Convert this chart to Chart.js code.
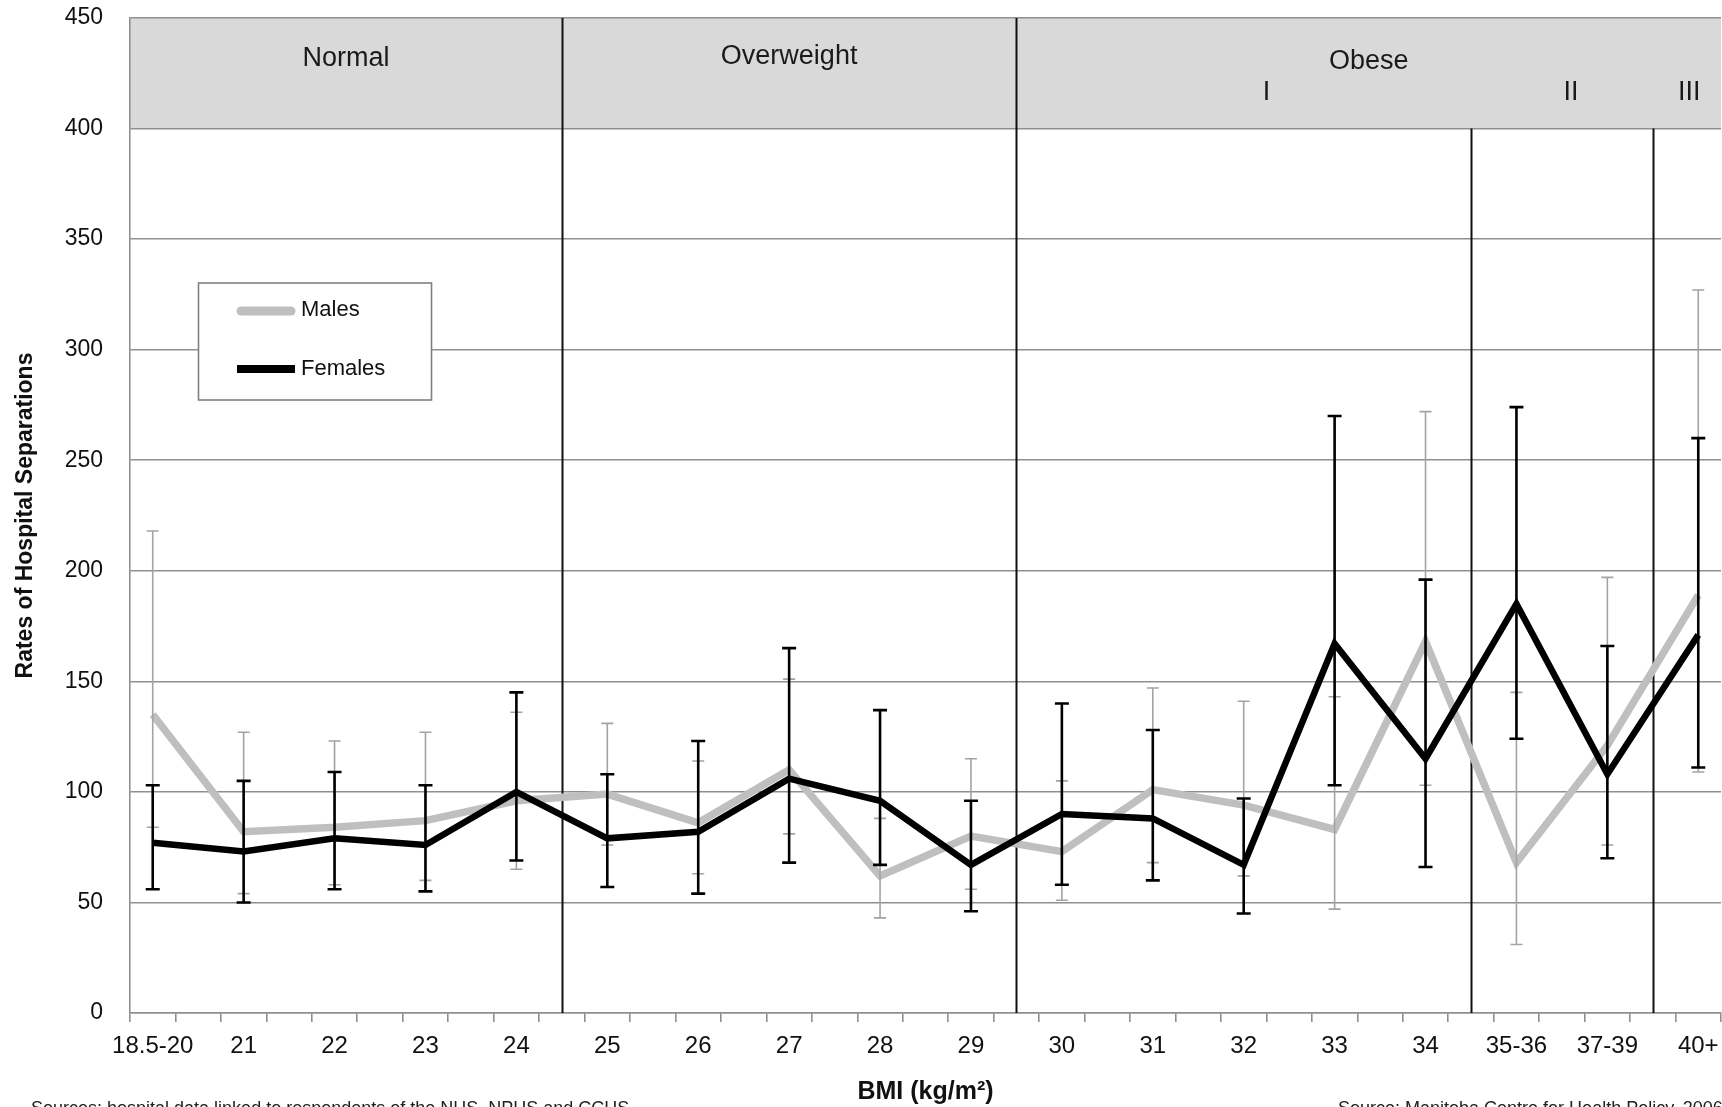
<!DOCTYPE html>
<html>
<head>
<meta charset="utf-8">
<script src="https://cdn.jsdelivr.net/npm/chart.js@4.4.1/dist/chart.umd.min.js"></script>
<style>
  html, body { margin: 0; padding: 0; background: #fff; overflow: hidden; }
  canvas { display: block; }
</style>
</head>
<body>
<canvas id="chart" width="1722" height="1107"></canvas>
<script>
// BMI groups on the x axis
const bmiGroups = ['18.5-20', '21', '22', '23', '24', '25', '26', '27', '28', '29',
                   '30', '31', '32', '33', '34', '35-36', '37-39', '40+'];

// Rates of hospital separations with lower / upper confidence limits
const males       = [135,  82,  84,  87,  96,  99,  86, 110,  62,  80,  73, 101,  94,  83, 168,  68, 121, 189];
const malesLow    = [ 84,  54,  58,  60,  65,  76,  63,  81,  43,  56,  51,  68,  62,  47, 103,  31,  76, 109];
const malesHigh   = [218, 127, 123, 127, 136, 131, 114, 151,  88, 115, 105, 147, 141, 143, 272, 145, 197, 327];
const females     = [ 77,  73,  79,  76, 100,  79,  82, 106,  96,  67,  90,  88,  67, 167, 115, 185, 108, 171];
const femalesLow  = [ 56,  50,  56,  55,  69,  57,  54,  68,  67,  46,  58,  60,  45, 103,  66, 124,  70, 111];
const femalesHigh = [103, 105, 109, 103, 145, 108, 123, 165, 137,  96, 140, 128,  97, 270, 196, 274, 166, 260];

// y axis tick values
const yTicks = [0, 50, 100, 150, 200, 250, 300, 350, 400, 450];

// BMI class header band and its labels
const bandRange = [400, 450];
const classLabels = [
  { text: 'Normal',     slot: 4.25,  value: 431.5 },
  { text: 'Overweight', slot: 14,    value: 432.5 },
  { text: 'Obese',      slot: 26.75, value: 430.5 },
  { text: 'I',          slot: 24.5,  value: 416.5 },
  { text: 'II',         slot: 31.2,  value: 416.5 },
  { text: 'III',        slot: 33.8,  value: 416.5 }
];
// class dividers: slot position on the x axis and the value they rise to
const dividerSlots = [9, 19, 29, 33];
const dividerTops  = [450, 450, 400, 400];

// each BMI group gets a labelled slot followed by an empty spacer slot
const slotLabels = [];
bmiGroups.forEach((g, i) => { slotLabels.push(g); if (i < bmiGroups.length - 1) slotLabels.push(''); });
const toSlots = arr => {
  const out = [];
  arr.forEach((v, i) => { out.push(v); if (i < arr.length - 1) out.push(null); });
  return out;
};

const errorSets = {
  Males:   { low: toSlots(malesLow),   high: toSlots(malesHigh),   color: '#a3a3a3', width: 1.6, cap: 6 },
  Females: { low: toSlots(femalesLow), high: toSlots(femalesHigh), color: '#000000', width: 2.6, cap: 7 }
};

Chart.defaults.font.family = '"Liberation Sans", Arial, Helvetica, sans-serif';
Chart.defaults.color = '#111';

const gridGray = '#8f8f8f';

// header band behind the grid
const classBand = {
  id: 'classBand',
  beforeDraw(chart) {
    const { ctx, chartArea, scales: { y } } = chart;
    const top = y.getPixelForValue(bandRange[1]);
    const bottom = y.getPixelForValue(bandRange[0]);
    ctx.save();
    ctx.fillStyle = '#d9d9d9';
    ctx.fillRect(chartArea.left, top, chartArea.right - chartArea.left, bottom - top);
    ctx.restore();
  },
  beforeDatasetsDraw(chart) {
    const { ctx, chartArea, scales: { x, y } } = chart;
    ctx.save();
    // dividers between the BMI classes
    ctx.strokeStyle = '#111';
    ctx.lineWidth = 2;
    dividerSlots.forEach((s, i) => {
      const px = Math.round(x.getPixelForValue(s)) + 0.5;
      ctx.beginPath();
      ctx.moveTo(px, y.getPixelForValue(dividerTops[i]));
      ctx.lineTo(px, chartArea.bottom);
      ctx.stroke();
    });
    // class names
    ctx.fillStyle = '#1a1a1a';
    ctx.font = '27px "Liberation Sans", Arial, sans-serif';
    ctx.textAlign = 'center';
    ctx.textBaseline = 'middle';
    classLabels.forEach(l => {
      ctx.fillText(l.text, x.getPixelForValue(l.slot), y.getPixelForValue(l.value));
    });
    ctx.restore();
  }
};

// confidence interval bars, drawn right after their own series
const errorBars = {
  id: 'errorBars',
  afterDatasetDraw(chart, args) {
    const ds = chart.data.datasets[args.index];
    const set = errorSets[ds.label];
    if (!set) return;
    const { ctx, scales: { x, y } } = chart;
    ctx.save();
    ctx.strokeStyle = set.color;
    ctx.lineWidth = set.width;
    ctx.lineCap = 'butt';
    set.low.forEach((lo, i) => {
      if (lo == null) return;
      const px = x.getPixelForValue(i);
      const y1 = y.getPixelForValue(lo);
      const y2 = y.getPixelForValue(set.high[i]);
      ctx.beginPath();
      ctx.moveTo(px, y1); ctx.lineTo(px, y2);
      ctx.moveTo(px - set.cap, y1); ctx.lineTo(px + set.cap, y1);
      ctx.moveTo(px - set.cap, y2); ctx.lineTo(px + set.cap, y2);
      ctx.stroke();
    });
    ctx.restore();
  }
};

// boxed legend inside the plot, plus the source notes along the bottom edge
const boxLegend = {
  id: 'boxLegend',
  afterDraw(chart) {
    const { ctx } = chart;
    ctx.save();
    ctx.fillStyle = '#fff';
    ctx.strokeStyle = '#808080';
    ctx.lineWidth = 1.6;
    ctx.fillRect(198.5, 283, 233, 117);
    ctx.strokeRect(198.5, 283, 233, 117);

    ctx.lineWidth = 9;
    ctx.lineCap = 'round';
    ctx.strokeStyle = '#bfbfbf';
    ctx.beginPath(); ctx.moveTo(241, 311); ctx.lineTo(291, 311); ctx.stroke();
    ctx.lineWidth = 8;
    ctx.lineCap = 'butt';
    ctx.strokeStyle = '#000';
    ctx.beginPath(); ctx.moveTo(237, 369); ctx.lineTo(295, 369); ctx.stroke();

    ctx.fillStyle = '#111';
    ctx.font = '22px "Liberation Sans", Arial, sans-serif';
    ctx.textAlign = 'left';
    ctx.textBaseline = 'middle';
    ctx.fillText('Males', 301, 310);
    ctx.fillText('Females', 301, 369);

    ctx.fillStyle = '#222';
    ctx.font = '18px "Liberation Sans", Arial, sans-serif';
    ctx.textBaseline = 'top';
    ctx.fillText('Sources: hospital data linked to respondents of the NHS, NPHS and CCHS', 31, 1100);
    ctx.fillText('Source: Manitoba Centre for Health Policy, 2006', 1338, 1100);
    ctx.restore();
  }
};

new Chart(document.getElementById('chart'), {
  type: 'line',
  data: {
    labels: slotLabels,
    datasets: [
      {
        label: 'Females',
        data: toSlots(females),
        borderColor: '#000',
        borderWidth: 6.5,
        pointRadius: 0,
        tension: 0,
        spanGaps: true,
        order: 0
      },
      {
        label: 'Males',
        data: toSlots(males),
        borderColor: '#bfbfbf',
        borderWidth: 7.5,
        pointRadius: 0,
        tension: 0,
        spanGaps: true,
        order: 1
      }
    ]
  },
  options: {
    responsive: false,
    animation: false,
    devicePixelRatio: 1,
    layout: { padding: { top: 18, right: 1, left: 0, bottom: 0 } },
    plugins: { legend: { display: false }, tooltip: { enabled: false } },
    scales: {
      x: {
        type: 'category',
        offset: true,
        grid: { offset: true, drawOnChartArea: false, drawTicks: true, tickLength: 9, color: gridGray, lineWidth: 1.6 },
        border: { color: gridGray, width: 1.6 },
        ticks: { autoSkip: false, maxRotation: 0, minRotation: 0, padding: 10, color: '#111', font: { size: 24 } },
        title: { display: true, text: 'BMI (kg/m²)', color: '#111', font: { size: 25, weight: 'bold' }, padding: { top: 0, bottom: 0 } },
        afterFit(scale) {
          scale.height = 94;
          scale.paddingLeft = 0; scale.paddingRight = 0;
          scale.paddingTop = 0; scale.paddingBottom = 0;
        }
      },
      y: {
        min: 0,
        max: 450,
        afterBuildTicks(scale) { scale.ticks = yTicks.map(v => ({ value: v })); },
        grid: { color: gridGray, lineWidth: 1.6, drawTicks: false },
        border: { color: gridGray, width: 1.6 },
        ticks: { padding: 27, color: '#111', font: { size: 23 } },
        title: { display: true, text: 'Rates of Hospital Separations', color: '#111', font: { size: 23, weight: 'bold' }, padding: { top: 12, bottom: 0 } },
        afterFit(scale) {
          scale.width = 130;
          scale.paddingLeft = 0; scale.paddingRight = 0;
          scale.paddingTop = 0; scale.paddingBottom = 0;
        }
      }
    }
  },
  plugins: [classBand, errorBars, boxLegend]
});
</script>
</body>
</html>
